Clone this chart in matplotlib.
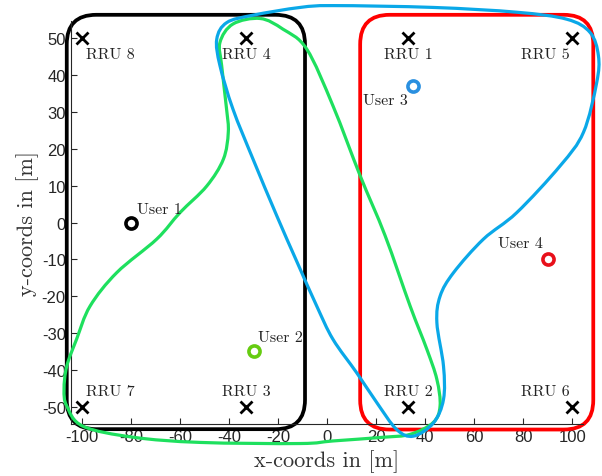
import numpy as np
import matplotlib
matplotlib.use('Agg')
import matplotlib.pyplot as plt
from matplotlib.path import Path
from matplotlib.patches import PathPatch, FancyBboxPatch

plt.rcParams['axes.unicode_minus'] = False

# RRU positions and names
rru_x = [33, 33, -33, -33, 100, 100, -100, -100]
rru_y = [50, -50, -50, 50, 50, -50, -50, 50]
rru_names = ['RRU 1', 'RRU 2', 'RRU 3', 'RRU 4', 'RRU 5', 'RRU 6', 'RRU 7', 'RRU 8']
rru_lab_x = [33, 33, -33, -33, 89, 89, -88.6, -88.6]
rru_lab_y = [45.6, -45.8, -45.8, 45.6, 45.6, -45.8, -45.8, 45.6]

# users
user_x = [-80, -30, 35, 90]
user_y = [0, -35, 37, -10]
user_names = ['User 1', 'User 2', 'User 3', 'User 4']
user_cols = ['black', '#66cc11', '#2a90e0', '#e8101a']
user_lab_x = [-68.2, -19.2, 23.7, 78.8]
user_lab_y = [3.6, -31.1, 33.2, -5.6]

# clusters (rounded boxes): x0, x1, y0, y1
box_black = [-106.2, -9.0, -56.1, 56.4]
box_red = [13.5, 108.6, -56.2, 56.4]

# cluster outlines
green_x = [-27.3, -18, -8.3, 2.4, 13.5, 23.7, 33.9, 40.7, 44.8, 46.1, 43.3, 33.9, 22.9,
           2.4, -11, -51.8, -79, -99.6, -106.2, -107.3, -106.2, -102.2, -96.7, -85.8,
           -69.5, -60, -49.1, -42.3, -40.3, -41, -43, -43.7, -38.4]
green_y = [55.4, 52.5, 47.1, 31.7, 12.7, -3.6, -22.7, -34.4, -42.6, -49.8, -54.3, -57.5, -58.3,
           -59.3, -60.0, -59.7, -58.3, -55.3, -49.8, -45.3, -39, -31.7, -22.7, -13.6,
           -4.5, 2.7, 9.9, 17.2, 24.5, 30.8, 42.6, 48.9, 53.9]
blue_x = [-11, 2.6, 43.4, 77.4, 97.8, 107.3, 110.7, 110, 104.6, 95.1, 77.4, 63.8, 51.6, 46.1,
          44.8, 47.5, 47.5, 43.4, 35.2, 28.4, 20.3, 12.1, 2.4, -4.2, -12.4, -20.5, -30.2,
          -38.4, -43.7, -45, -40.9, -30.2]
blue_y = [58.4, 58.9, 58.4, 57.1, 55.2, 51.6, 45.3, 38, 24.5, 15.4, 2.7, -4.5, -13.6, -20,
          -27.2, -39, -48, -54.4, -58, -56.2, -48.9, -40.8, -31.7, -22.7, -10.5, 1.8, 17.2,
          30.8, 42.6, 49.8, 54.3, 56.3]


def closed_curve(xs, ys):
    # smooth closed Bezier path through the traced points (Catmull-Rom tangents)
    p = np.column_stack([xs, ys])
    n = len(p)
    verts = [p[0]]
    codes = [Path.MOVETO]
    for i in range(n):
        p0, p1, p2, p3 = p[i - 1], p[i], p[(i + 1) % n], p[(i + 2) % n]
        verts += [p1 + (p2 - p0) / 6, p2 - (p3 - p1) / 6, p2]
        codes += [Path.CURVE4] * 3
    return Path(verts, codes)


fig = plt.figure(figsize=(6.02, 4.77), dpi=100)
ax = fig.add_axes([0.1174, 0.109, 0.851, 0.8455])
ax.set_xlim(-104.6, 104.4)
ax.set_ylim(-54.7, 54.8)
aspect = (fig.get_figheight() * 0.8455 / 109.5) / (fig.get_figwidth() * 0.851 / 209)

for b, c in [(box_black, 'black'), (box_red, '#ff0000')]:
    ax.add_patch(FancyBboxPatch((b[0], b[2]), b[1] - b[0], b[3] - b[2],
                                boxstyle='round,pad=0,rounding_size=12',
                                mutation_aspect=1 / aspect,
                                fill=False, ec=c, lw=2.7, clip_on=False, zorder=2))

ax.add_patch(PathPatch(closed_curve(green_x, green_y), fill=False, ec='#1ee05e',
                       lw=2.3, clip_on=False, zorder=3))
ax.add_patch(PathPatch(closed_curve(blue_x, blue_y), fill=False, ec='#0aa8e8',
                       lw=2.3, clip_on=False, zorder=3))

ax.plot(rru_x, rru_y, 'x', color='black', ms=9, mew=2, clip_on=False, zorder=5)
for x, y, s in zip(rru_lab_x, rru_lab_y, rru_names):
    ax.text(x, y, s, family='cmr10', fontsize=11.5, ha='center', va='center', color='#222222')

for x, y, c in zip(user_x, user_y, user_cols):
    ax.plot(x, y, 'o', mfc='white', mec=c, ms=8, mew=2.6, zorder=5)
for x, y, s in zip(user_lab_x, user_lab_y, user_names):
    ax.text(x, y, s, family='cmr10', fontsize=11.5, ha='center', va='center', color='#222222')

ax.spines['top'].set_visible(False)
ax.spines['right'].set_visible(False)
for sp in ['left', 'bottom']:
    ax.spines[sp].set_color('#262626')
    ax.spines[sp].set_linewidth(0.8)
ax.set_xticks(np.arange(-100, 101, 20))
ax.set_yticks(np.arange(-50, 51, 10))
ax.tick_params(direction='in', length=4, width=0.8, colors='#262626', labelsize=12)
for lab in ax.get_xticklabels() + ax.get_yticklabels():
    lab.set_family('Liberation Sans')
ax.set_xlabel('x-coords in [m]', family='cmr10', fontsize=16, color='#333333', labelpad=4)
ax.set_ylabel('y-coords in [m]', family='cmr10', fontsize=16, color='#333333', labelpad=2)

fig.savefig('out.png', dpi=100)
